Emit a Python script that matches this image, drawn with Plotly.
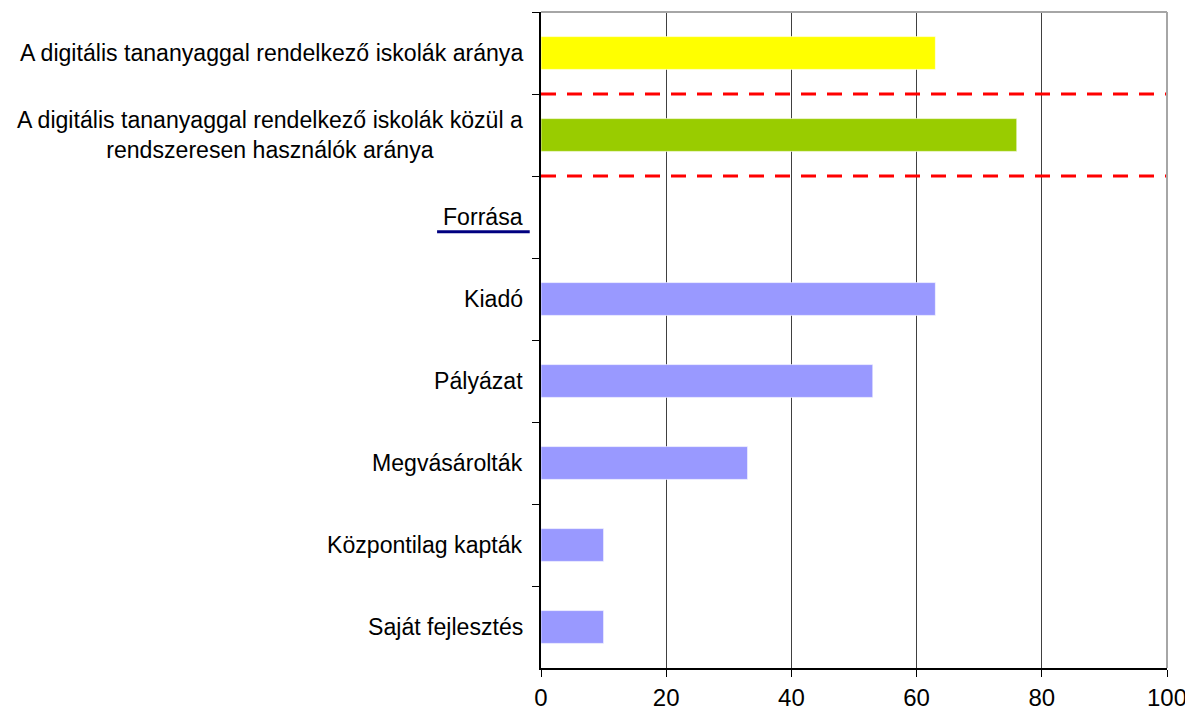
import plotly.graph_objects as go

categories = [
    "A digitális tananyaggal rendelkező iskolák aránya",
    "A digitális tananyaggal rendelkező iskolák közül a<br>rendszeresen használók aránya",
    "Forrása",
    "Kiadó",
    "Pályázat",
    "Megvásárolták",
    "Központilag kapták",
    "Saját fejlesztés",
]
values = [63, 76, None, 63, 53, 33, 10, 10]
bar_colors = ["#FFFF00", "#99CC00", "#9999FF", "#9999FF", "#9999FF", "#9999FF", "#9999FF", "#9999FF"]
x_ticks = [0, 20, 40, 60, 80, 100]

FONT = "Liberation Sans, Arial, sans-serif"

fig = go.Figure()

fig.add_trace(go.Bar(
    y=categories,
    x=values,
    orientation="h",
    width=0.4,
    marker=dict(color=bar_colors, line=dict(color="rgba(255,255,255,0.6)", width=1)),
    showlegend=False,
    hoverinfo="x+y",
))

# category labels (centred multi-line text, right edge next to axis)
for c in categories:
    fig.add_annotation(
        x=0, xref="paper", y=c, yref="y",
        text=c, showarrow=False,
        xanchor="right", yanchor="middle", align="center",
        xshift=-16,
        font=dict(family=FONT, size=23.1, color="black"),
    )

# underline under "Forrása"
fig.add_shape(type="line", xref="paper", yref="y",
              x0=-0.166, x1=-0.018, y0=2.18, y1=2.18,
              line=dict(color="#000080", width=3))

# red dashed separators
for yb in [0.5, 1.5]:
    fig.add_shape(type="line", xref="x", yref="y",
                  x0=0, x1=100, y0=yb, y1=yb,
                  line=dict(color="#FF0000", width=3, dash="15px,11px"), layer="above")

# top/right light border
fig.add_shape(type="line", xref="paper", yref="paper", x0=0, x1=1, y0=1, y1=1,
              line=dict(color="#A6A6A6", width=2))
fig.add_shape(type="line", xref="paper", yref="paper", x0=1, x1=1, y0=0, y1=1,
              line=dict(color="#A6A6A6", width=2))

fig.update_xaxes(
    range=[0, 100],
    tickvals=x_ticks,
    showgrid=True, gridcolor="#404040", gridwidth=1,
    showline=True, linecolor="black", linewidth=1.5,
    ticks="outside", ticklen=7, tickcolor="black",
    tickfont=dict(family=FONT, size=24, color="black"),
    zeroline=False, automargin=False,
)
fig.update_yaxes(
    range=[7.5, -0.5],
    showticklabels=False,
    showgrid=False,
    showline=True, linecolor="black", linewidth=1.5,
    ticks="outside", ticklen=7, tickcolor="black", tickson="boundaries",
    automargin=False,
)

# page body adds an 8px offset, margins compensate for it
fig.update_layout(
    width=1193, height=715,
    margin=dict(l=533, r=34, t=4, b=55),
    plot_bgcolor="white", paper_bgcolor="white",
    bargap=0.6,
)

fig.write_html("out.html")
